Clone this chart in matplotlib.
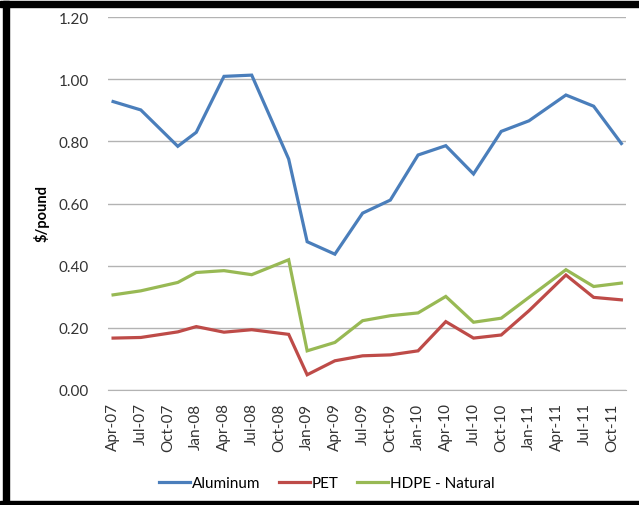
import numpy as np
import matplotlib
matplotlib.use("Agg")
import matplotlib.pyplot as plt
import matplotlib.patches as mpatches

# data points (month of observation) and prices in $/pound
dates = ["2007-04", "2007-07", "2007-11", "2008-01", "2008-04", "2008-07",
         "2008-11", "2009-01", "2009-04", "2009-07", "2009-10", "2010-01",
         "2010-04", "2010-07", "2010-10", "2011-01", "2011-05", "2011-08",
         "2011-11"]
aluminum = [0.928, 0.901, 0.784, 0.829, 1.009, 1.013, 0.743, 0.477, 0.437,
            0.569, 0.611, 0.756, 0.786, 0.695, 0.832, 0.866, 0.949, 0.913,
            0.793]
pet = [0.167, 0.169, 0.187, 0.204, 0.186, 0.194, 0.179, 0.049, 0.094,
       0.110, 0.113, 0.126, 0.220, 0.167, 0.177, 0.255, 0.370, 0.298, 0.290]
hdpe = [0.306, 0.319, 0.346, 0.378, 0.384, 0.371, 0.419, 0.126, 0.153,
        0.223, 0.239, 0.248, 0.301, 0.218, 0.231, 0.298, 0.387, 0.333, 0.344]

tick_labels = ["Apr-07", "Jul-07", "Oct-07", "Jan-08", "Apr-08", "Jul-08",
               "Oct-08", "Jan-09", "Apr-09", "Jul-09", "Oct-09", "Jan-10",
               "Apr-10", "Jul-10", "Oct-10", "Jan-11", "Apr-11", "Jul-11",
               "Oct-11"]

# month offsets from the first observation
d = np.array(dates, dtype="datetime64[M]")
x = (d - d[0]).astype(int)
ticks = np.arange(len(tick_labels)) * 3

plt.rcParams["font.family"] = ["Lato", "DejaVu Sans"]

fig = plt.figure(figsize=(6.39, 5.06), dpi=100)
fig.patch.set_facecolor("white")
ax = fig.add_axes([108 / 639, 1 - 391 / 506, (626 - 108) / 639, (391 - 18) / 506])

ax.plot(x, aluminum, color="#4A7EBB", lw=2.3, label="Aluminum", solid_joinstyle="miter")
ax.plot(x, pet, color="#BE4B48", lw=2.3, label="PET", solid_joinstyle="miter")
ax.plot(x, hdpe, color="#98B954", lw=2.3, label="HDPE - Natural", solid_joinstyle="miter")

ax.set_xlim(-0.55, 55.5)
ax.set_ylim(0, 1.2)
ax.set_yticks(np.arange(0, 1.21, 0.2))
ax.set_yticklabels([f"{v:.2f}" for v in np.arange(0, 1.21, 0.2)], fontsize=11, color="#333333")
ax.set_xticks(ticks)
ax.set_xticklabels(tick_labels, rotation=90, fontsize=11, color="#333333")
ax.tick_params(axis="both", length=0)
ax.tick_params(axis="y", pad=14)
ax.tick_params(axis="x", pad=9)

ax.grid(axis="y", color="#B3B3B3", lw=1)
ax.set_axisbelow(True)
for s in ["left", "right", "top"]:
    ax.spines[s].set_visible(False)
ax.spines["bottom"].set_color("#B3B3B3")

fig.text(42 / 639, 1 - 214 / 506, "$/pound", rotation=90, ha="center", va="center",
         fontsize=10.5, fontweight="bold")

fig.legend(loc="center", bbox_to_anchor=(327 / 639, 1 - 484 / 506), ncol=3,
           frameon=False, fontsize=11, handlelength=2.0, handletextpad=0.15,
           columnspacing=1.2)

# border of the original chart frame
fig.patches.append(mpatches.Rectangle((0, 1 - 7.5 / 506), 1, 6 / 506, transform=fig.transFigure,
                                      color="black", zorder=10))
fig.patches.append(mpatches.Rectangle((3 / 639, 0), 5.5 / 639, 1 - 1.5 / 506, transform=fig.transFigure,
                                      color="black", zorder=10))
fig.patches.append(mpatches.Rectangle((0, 0), 1, 4.5 / 506, transform=fig.transFigure,
                                      color="black", zorder=10))

fig.savefig("out.png", dpi=100)
